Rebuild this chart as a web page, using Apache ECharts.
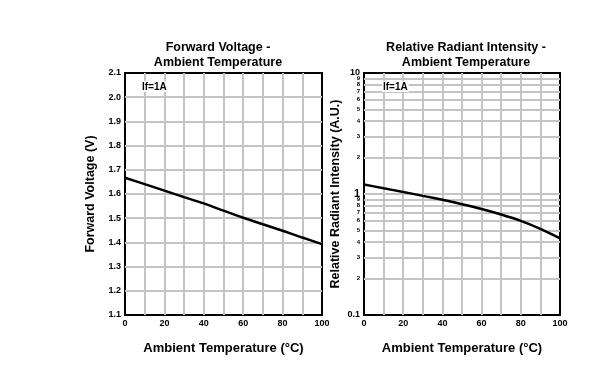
<!DOCTYPE html>
<html><head><meta charset="utf-8">
<script src="https://cdn.jsdelivr.net/npm/echarts@6/dist/echarts.min.js"></script>
<style>html,body{margin:0;padding:0;background:#fff}#c{width:604px;height:382px}</style>
</head><body><div id="c"></div>
<script>
const temperatures = [0, 10, 20, 30, 40, 50, 60, 70, 80, 90, 100];
const forwardVoltage = [1.667, 1.641, 1.614, 1.587, 1.561, 1.531, 1.502, 1.475, 1.448, 1.420, 1.393];
const relativeIntensity = [1.20, 1.115, 1.04, 0.965, 0.895, 0.824, 0.752, 0.677, 0.600, 0.515, 0.43];
const xTickValues = [0, 20, 40, 60, 80, 100];
const voltageTicks = [1.1, 1.2, 1.3, 1.4, 1.5, 1.6, 1.7, 1.8, 1.9, 2.0, 2.1];
const intensityTicks = [0.1, 0.2, 0.3, 0.4, 0.5, 0.6, 0.7, 0.8, 0.9, 1, 2, 3, 4, 5, 6, 7, 8, 9, 10];
const intensityTopMinorTicks = [9];
const conditionLabel = 'If=1A';

const FONT = '"Liberation Sans", Arial, sans-serif';
const GRID_GRAY = '#c4c4c4';
const chart = echarts.init(document.getElementById('c'), null, {renderer: 'canvas'});

function xAxisCfg(gridIndex) {
  return {
    gridIndex, type: 'value', min: 0, max: 100, interval: 10,
    name: 'Ambient Temperature (°C)', nameLocation: 'middle', nameGap: 27,
    nameTextStyle: {fontFamily: FONT, fontWeight: 'bold', fontSize: 13, color: '#000'},
    axisLine: {show: false}, axisTick: {show: false},
    axisLabel: {fontFamily: FONT, fontWeight: 'bold', fontSize: 9, color: '#000', margin: 4,
      showMinLabel: true, showMaxLabel: true,
      formatter: v => (xTickValues.indexOf(v) >= 0 ? String(v) : '')},
    splitLine: {show: true, showMinLine: false, showMaxLine: false, lineStyle: {color: GRID_GRAY, width: 2}}
  };
}

const condStyle = {text: conditionLabel, font: 'bold 10px ' + FONT, fill: '#000',
  backgroundColor: '#fff', padding: [1, 1, 0, 1]};

const smallRich = {
  s: {fontFamily: FONT, fontWeight: 'bold', fontSize: 6, lineHeight: 2, color: '#000'},
  t: {fontFamily: FONT, fontWeight: 'bold', fontSize: 9, lineHeight: 2, color: '#000'},
  b: {fontFamily: FONT, fontWeight: 'bold', fontSize: 11, color: '#000'}
};
function logLabel(v) {
  const r = Math.round(v * 100) / 100;
  if (r === 1) return '{b|1}';
  if (r === 10) return '{t|10}';
  if (r === 0.1) return '0.1';
  const d = Math.round(r / Math.pow(10, Math.floor(Math.log10(r) + 1e-9)));
  return '{s|' + d + '}';
}

const option = {
  animation: false,
  backgroundColor: '#fff',
  title: [
    {text: 'Forward Voltage -\nAmbient Temperature', left: 213, top: 35, textAlign: 'center',
     textStyle: {fontFamily: FONT, fontWeight: 'bold', fontSize: 12.5, lineHeight: 15, color: '#000'}},
    {text: 'Relative Radiant Intensity -\nAmbient Temperature', left: 461, top: 35, textAlign: 'center',
     textStyle: {fontFamily: FONT, fontWeight: 'bold', fontSize: 12.5, lineHeight: 15, color: '#000'}}
  ],
  graphic: [
    {type: 'text', left: 141, top: 81, z: 100, style: condStyle},
    {type: 'text', left: 382, top: 81, z: 100, style: condStyle}
  ],
  grid: [
    {left: 125, top: 73, width: 197, height: 242, show: true, borderColor: '#000', borderWidth: 2, backgroundColor: 'transparent'},
    {left: 364, top: 73, width: 196, height: 242, show: true, borderColor: '#000', borderWidth: 2, backgroundColor: 'transparent'}
  ],
  xAxis: [xAxisCfg(0), xAxisCfg(1)],
  yAxis: [
    {gridIndex: 0, type: 'value', min: 1.1, max: 2.1, interval: 0.1,
     name: 'Forward Voltage (V)', nameLocation: 'middle', nameGap: 28,
     nameTextStyle: {fontFamily: FONT, fontWeight: 'bold', fontSize: 12.5, color: '#000'},
     axisLine: {show: false}, axisTick: {show: false},
     axisLabel: {fontFamily: FONT, fontWeight: 'bold', fontSize: 9, color: '#000', margin: 4,
       showMinLabel: true, showMaxLabel: true,
       formatter: v => v.toFixed(1)},
     splitLine: {show: true, showMinLine: false, showMaxLine: false, lineStyle: {color: GRID_GRAY, width: 2}}},
    {gridIndex: 1, type: 'log', logBase: 10, min: 0.1, max: 10,
     name: 'Relative Radiant Intensity (A.U.)', nameLocation: 'middle', nameGap: 22,
     nameTextStyle: {fontFamily: FONT, fontWeight: 'bold', fontSize: 12.5, color: '#000'},
     axisLine: {show: false},
     axisTick: {show: false, customValues: intensityTicks},
     axisLabel: {fontFamily: FONT, fontWeight: 'bold', fontSize: 9, color: '#000', margin: 4,
       showMinLabel: true, showMaxLabel: true, hideOverlap: false,
       customValues: intensityTicks, formatter: logLabel, rich: smallRich},
     splitLine: {show: true, showMinLine: false, showMaxLine: false, lineStyle: {color: GRID_GRAY, width: 2}}},
    {gridIndex: 1, type: 'log', logBase: 10, min: 0.1, max: 10, position: 'left',
     axisLine: {show: false},
     axisTick: {show: false, customValues: intensityTopMinorTicks},
     axisLabel: {fontFamily: FONT, fontWeight: 'bold', fontSize: 9, color: '#000', margin: 4,
       showMinLabel: true, showMaxLabel: true,
       customValues: intensityTopMinorTicks, formatter: logLabel, rich: smallRich},
     splitLine: {show: false}}
  ],
  series: [
    {type: 'line', xAxisIndex: 0, yAxisIndex: 0, smooth: 0.3, symbol: 'none',
     lineStyle: {color: '#000', width: 2.5},
     data: temperatures.map((t, i) => [t, forwardVoltage[i]])},
    {type: 'line', xAxisIndex: 1, yAxisIndex: 1, smooth: 0.3, symbol: 'none',
     lineStyle: {color: '#000', width: 2.5},
     data: temperatures.map((t, i) => [t, relativeIntensity[i]])}
  ]
};
chart.setOption(option);
</script></body></html>
